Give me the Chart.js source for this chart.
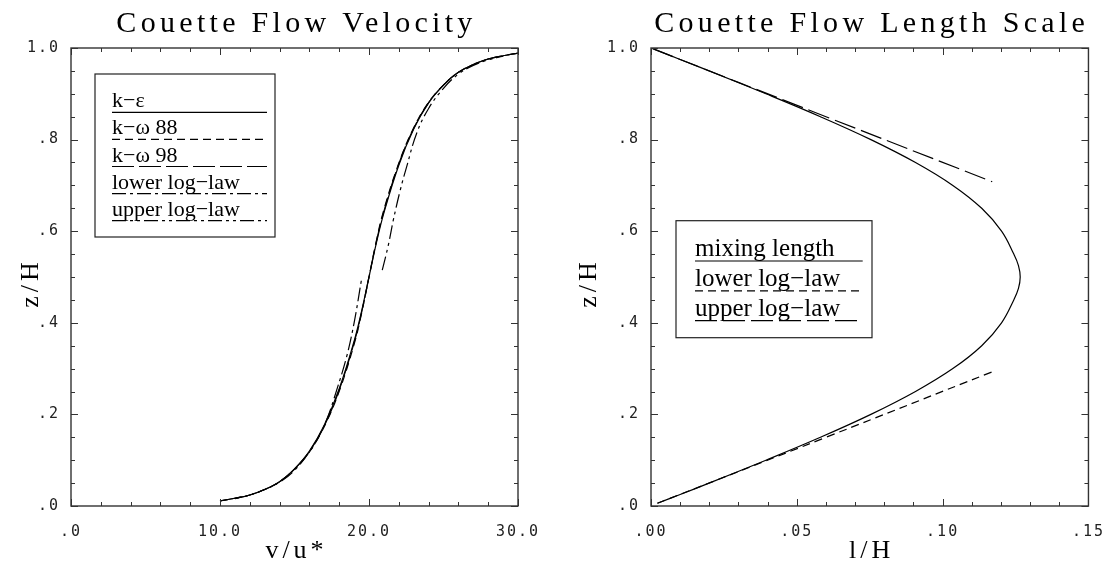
<!DOCTYPE html>
<html>
<head>
<meta charset="utf-8">
<script src="https://cdn.jsdelivr.net/npm/chart.js@4/dist/chart.umd.min.js"></script>
<style>
  html, body { margin: 0; padding: 0; background: #fff; }
  #wrap { position: relative; width: 1119px; height: 565px; }
  .panel { position: absolute; top: 0; height: 565px; }
  #left-panel { left: 0; width: 560px; }
  #right-panel { left: 560px; width: 559px; }
</style>
</head>
<body>
<div id="wrap">
  <div class="panel" id="left-panel"><canvas id="velocity-chart"></canvas></div>
  <div class="panel" id="right-panel"><canvas id="length-chart"></canvas></div>
</div>
<script>
// Couette flow velocity: z/H levels and v/u* for each model
const zVel = [0.011, 0.017, 0.024, 0.036, 0.053, 0.081, 0.120, 0.177, 0.256, 0.360, 0.425, 0.500,
  0.575, 0.640, 0.744, 0.823, 0.880, 0.919, 0.947, 0.964, 0.976, 0.983, 0.989];
const vKEps = [10.0, 11.0, 12.0, 13.0, 14.0, 15.0, 16.0, 17.0, 18.0, 19.0, 19.5, 20.0,
  20.5, 21.0, 22.0, 23.0, 24.0, 25.0, 26.0, 27.0, 28.0, 29.0, 30.0];
const vKOm88 = [10.0, 11.0, 12.0, 13.0, 14.0, 15.02, 16.04, 17.05, 18.06, 19.06, 19.53, 20.0,
  20.47, 20.94, 21.95, 22.96, 23.97, 24.99, 26.0, 27.0, 28.0, 29.0, 30.0];
const vKOm98 = [10.0, 11.0, 12.0, 13.0, 14.0, 15.01, 16.02, 17.03, 18.03, 19.03, 19.52, 20.0,
  20.48, 20.97, 21.97, 22.98, 23.99, 25.0, 26.0, 27.0, 28.0, 29.0, 30.0];

const vLowLog = [11.0, 12.0, 13.0, 14.0, 15.0, 16.0, 16.6, 17.16, 17.83, 18.5, 19.0, 19.51];
const zLowLog = [0.016, 0.024, 0.036, 0.052, 0.078, 0.118, 0.150, 0.188, 0.253, 0.326, 0.400, 0.497];
const vUpLog = [20.89, 21.3, 21.63, 22.1, 22.53, 23.2, 24.0, 25.0, 26.0, 27.0, 28.0, 29.0];
const zUpLog = [0.515, 0.570, 0.624, 0.690, 0.741, 0.814, 0.868, 0.912, 0.943, 0.962, 0.974, 0.982];

// Couette flow length scale: z/H levels and l/H
const zMix = [0.006, 0.025, 0.05, 0.1, 0.15, 0.2, 0.25, 0.3, 0.35, 0.4, 0.45, 0.475, 0.5,
  0.525, 0.55, 0.6, 0.65, 0.7, 0.75, 0.8, 0.85, 0.9, 0.95, 0.975, 0.998];
const lMix = [0.0022, 0.0100, 0.0199, 0.0394, 0.0581, 0.0754, 0.0907, 0.1035, 0.1134, 0.1202, 0.1244, 0.1260, 0.1266,
  0.1260, 0.1244, 0.1202, 0.1134, 0.1035, 0.0907, 0.0754, 0.0581, 0.0394, 0.0199, 0.0100, 0.0008];
const lLowLog = [0.0022, 0.060, 0.117];
const zLowLogL = [0.006, 0.150, 0.293];
const lUpLog = [0.0004, 0.060, 0.117];
const zUpLogL = [0.999, 0.850, 0.708];

// tick labels
const velXTicks = [0, 10, 20, 30];
const lenXTicks = [0, 0.05, 0.1, 0.15];
const zTicks = [0, 0.2, 0.4, 0.6, 0.8, 1.0];

const pts = (xs, ys) => xs.map((x, i) => ({ x, y: ys[i] }));
const noLead = (s) => s.replace(/^0\./, '.');

const tickFont = { family: 'DejaVu Sans Mono', size: 15 };

const near = (v, step) => Math.abs(v / step - Math.round(v / step)) < 1e-6;

// titles and axis names, drawn with wide letter spacing like the original plot
const chartText = {
  id: 'chartText',
  beforeDraw(chart) {
    chart.ctx.letterSpacing = '2px';
  },
  afterDraw(chart, args, opts) {
    const { ctx, chartArea: a } = chart;
    const cx = (a.left + a.right) / 2;
    ctx.save();
    ctx.fillStyle = '#000';
    ctx.textAlign = 'center';
    ctx.textBaseline = 'alphabetic';
    ctx.letterSpacing = '4.3px';
    ctx.font = '30px "Liberation Serif"';
    ctx.fillText(opts.title, cx + 2, 32);
    ctx.letterSpacing = '4px';
    ctx.font = '26px "Liberation Serif"';
    ctx.fillText(opts.xTitle, cx + 2, 558);
    ctx.translate(opts.yTitleX, (a.top + a.bottom) / 2 + 8);
    ctx.rotate(-Math.PI / 2);
    ctx.textBaseline = 'middle';
    ctx.fillText(opts.yTitle, 2, 0);
    ctx.restore();
    ctx.letterSpacing = '0px';
  },
};

const frameTicks = {
  id: 'frameTicks',
  afterDatasetsDraw(chart, args, opts) {
    const { ctx, chartArea: a, scales: { x, y } } = chart;
    ctx.save();
    ctx.strokeStyle = '#333';
    ctx.lineWidth = 1;
    ctx.beginPath();
    for (let v = x.min; v <= x.max + 1e-9; v += opts.xMinor) {
      const px = Math.round(x.getPixelForValue(v)) + 0.5;
      const len = near(v, opts.xMajor) ? 7 : 4;
      ctx.moveTo(px, a.bottom); ctx.lineTo(px, a.bottom - len);
      ctx.moveTo(px, a.top); ctx.lineTo(px, a.top + len);
    }
    for (let v = y.min; v <= y.max + 1e-9; v += opts.yMinor) {
      const py = Math.round(y.getPixelForValue(v)) + 0.5;
      const len = near(v, opts.yMajor) ? 7 : 4;
      ctx.moveTo(a.left, py); ctx.lineTo(a.left + len, py);
      ctx.moveTo(a.right, py); ctx.lineTo(a.right - len, py);
    }
    ctx.stroke();
    ctx.lineWidth = 1.4;
    ctx.strokeRect(a.left, a.top, a.right - a.left, a.bottom - a.top);
    ctx.restore();
  },
};

const boxLegend = {
  id: 'boxLegend',
  afterDraw(chart, args, opts) {
    const { ctx, chartArea: a } = chart;
    const [bx, by, bw, bh] = opts.box;
    ctx.save();
    ctx.letterSpacing = '0px';
    ctx.strokeStyle = '#222';
    ctx.lineWidth = 1.2;
    ctx.strokeRect(a.left + bx, a.top + by, bw, bh);
    ctx.font = opts.font;
    ctx.fillStyle = '#000';
    ctx.textAlign = 'left';
    ctx.textBaseline = 'alphabetic';
    ctx.strokeStyle = '#000';
    chart.data.datasets.forEach((ds, i) => {
      const ly = a.top + opts.rowTop + i * opts.rowStep;
      ctx.fillText(ds.label, a.left + opts.lineStart, ly - opts.textGap);
      ctx.setLineDash(ds.borderDash || []);
      ctx.beginPath();
      ctx.moveTo(a.left + opts.lineStart, ly);
      ctx.lineTo(a.left + opts.lineEnd, ly);
      ctx.stroke();
    });
    ctx.restore();
  },
};

const lineSet = (label, data, dash) => ({
  label,
  data,
  borderColor: '#000',
  borderWidth: 1.2,
  borderDash: dash,
  pointRadius: 0,
  showLine: true,
  fill: false,
  tension: 0.4,
});

const buildAxes = (xMin, xMax, xTickVals, xFmt, yWidth) => ({
  x: {
    type: 'linear',
    min: xMin,
    max: xMax,
    afterFit: (s) => { s.height = 59; },
    afterBuildTicks: (s) => { s.ticks = xTickVals.map((value) => ({ value })); },
    grid: { display: false, drawTicks: false },
    border: { display: false },
    ticks: { padding: 17, font: tickFont, color: '#222', maxRotation: 0, autoSkip: false, callback: xFmt },
  },
  y: {
    type: 'linear',
    min: 0,
    max: 1,
    afterFit: (s) => { s.width = yWidth; },
    afterBuildTicks: (s) => { s.ticks = zTicks.map((value) => ({ value })); },
    grid: { display: false, drawTicks: false },
    border: { display: false },
    ticks: {
      padding: 11,
      font: tickFont,
      color: '#222',
      autoSkip: false,
      callback: (v) => (v === 1 ? '1.0' : noLead(v.toFixed(1))),
    },
  },
});

new Chart(document.querySelector('#velocity-chart'), {
  type: 'scatter',
  data: {
    datasets: [
      lineSet('k\u2212\u03b5', pts(vKEps, zVel), []),
      lineSet('k\u2212\u03c9 88', pts(vKOm88, zVel), [8, 5]),
      lineSet('k\u2212\u03c9 98', pts(vKOm98, zVel), [22, 5]),
      lineSet('lower log\u2212law', pts(vLowLog, zLowLog), [14, 4, 3, 4]),
      lineSet('upper log\u2212law', pts(vUpLog, zUpLog), [14, 4, 3, 4, 3, 4]),
    ],
  },
  options: {
    responsive: true,
    maintainAspectRatio: false,
    animation: false,
    layout: { padding: { left: 0, right: 42, top: 48, bottom: 0 } },
    plugins: {
      legend: { display: false },
      tooltip: { enabled: false },
      title: { display: false },
      chartText: { title: 'Couette Flow Velocity', xTitle: 'v/u*', yTitle: 'z/H', yTitleX: 31 },
      frameTicks: { xMinor: 2, xMajor: 10, yMinor: 0.05, yMajor: 0.2 },
      boxLegend: {
        box: [24, 26, 180, 163],
        font: '22px "Liberation Serif"',
        lineStart: 41,
        lineEnd: 196,
        rowTop: 64.3,
        rowStep: 27.1,
        textGap: 5,
      },
    },
    scales: buildAxes(0, 30, velXTicks, (v) => noLead(v.toFixed(1)), 71),
  },
  plugins: [chartText, frameTicks, boxLegend],
});

new Chart(document.querySelector('#length-chart'), {
  type: 'scatter',
  data: {
    datasets: [
      lineSet('mixing length', pts(lMix, zMix), []),
      lineSet('lower log\u2212law', pts(lLowLog, zLowLogL), [8, 5]),
      lineSet('upper log\u2212law', pts(lUpLog, zUpLogL), [22, 6]),
    ],
  },
  options: {
    responsive: true,
    maintainAspectRatio: false,
    animation: false,
    layout: { padding: { left: 0, right: 22, top: 48, bottom: 0 } },
    plugins: {
      legend: { display: false },
      tooltip: { enabled: false },
      title: { display: false },
      chartText: { title: 'Couette Flow Length Scale', xTitle: 'l/H', yTitle: 'z/H', yTitleX: 29 },
      frameTicks: { xMinor: 0.01, xMajor: 0.05, yMinor: 0.05, yMajor: 0.2 },
      boxLegend: {
        box: [25, 172.7, 196, 117],
        font: '25px "Liberation Serif"',
        lineStart: 44,
        lineEnd: 211.7,
        rowTop: 213,
        rowStep: 29.8,
        textGap: 5,
      },
    },
    scales: buildAxes(0, 0.15, lenXTicks, (v) => noLead(v.toFixed(2)), 91),
  },
  plugins: [chartText, frameTicks, boxLegend],
});
</script>
</body>
</html>
